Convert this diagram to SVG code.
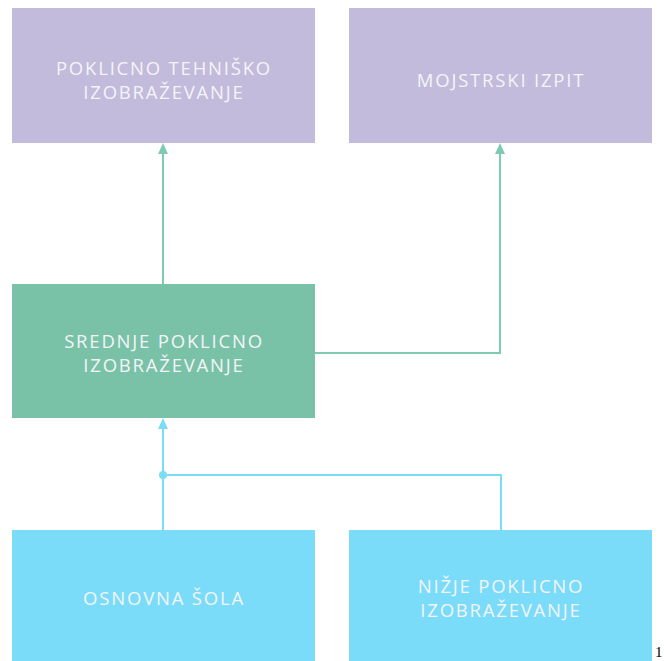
<svg xmlns="http://www.w3.org/2000/svg" width="664" height="661" viewBox="0 0 664 661">
<style>
.lbl{font-family:"Open Sans","Liberation Sans",sans-serif;font-size:18.5px;fill:#f4f4f8;letter-spacing:1.8px;text-anchor:middle}
.g{stroke:#7fcbb0;stroke-width:2;fill:none}
.b{stroke:#7adcf7;stroke-width:2;fill:none}
</style>
<rect width="664" height="661" fill="#fff"/>
<g id="connectors">
<path class="g" d="M163,284 V152"/>
<path d="M158,154 L163,143 L168,154 Z" fill="#7fcbb0"/>
<path class="g" d="M315,353 H500 V152"/>
<path d="M495,154 L500,143 L505,154 Z" fill="#7fcbb0"/>
<path class="b" d="M163,530 V427"/>
<path d="M158,429 L163,418 L168,429 Z" fill="#7adcf7"/>
<path class="b" d="M163,475 H501 V530"/>
<circle cx="163" cy="475" r="4" fill="#7adcf7"/>
</g>
<g id="n1">
<rect x="12" y="8" width="303" height="135" fill="#c2bbdb"/>
<text class="lbl" x="164" y="75">POKLICNO TEHNIŠKO</text>
<text class="lbl" x="164" y="99">IZOBRAŽEVANJE</text>
</g>
<g id="n2">
<rect x="349" y="8" width="303" height="135" fill="#c2bbdb"/>
<text class="lbl" x="501" y="87">MOJSTRSKI IZPIT</text>
</g>
<g id="n3">
<rect x="12" y="284" width="303" height="134" fill="#79c2a8"/>
<text class="lbl" x="164" y="348">SREDNJE POKLICNO</text>
<text class="lbl" x="164" y="372">IZOBRAŽEVANJE</text>
</g>
<g id="n4">
<rect x="12" y="530" width="303" height="131" fill="#7adcf9"/>
<text class="lbl" x="164" y="605">OSNOVNA ŠOLA</text>
</g>
<g id="n5">
<rect x="349" y="530" width="303" height="131" fill="#7adcf9"/>
<text class="lbl" x="501" y="593">NIŽJE POKLICNO</text>
<text class="lbl" x="501" y="617">IZOBRAŽEVANJE</text>
</g>
<text x="655" y="657" font-family="Liberation Serif,serif" font-size="15" fill="#000">1</text>
</svg>
